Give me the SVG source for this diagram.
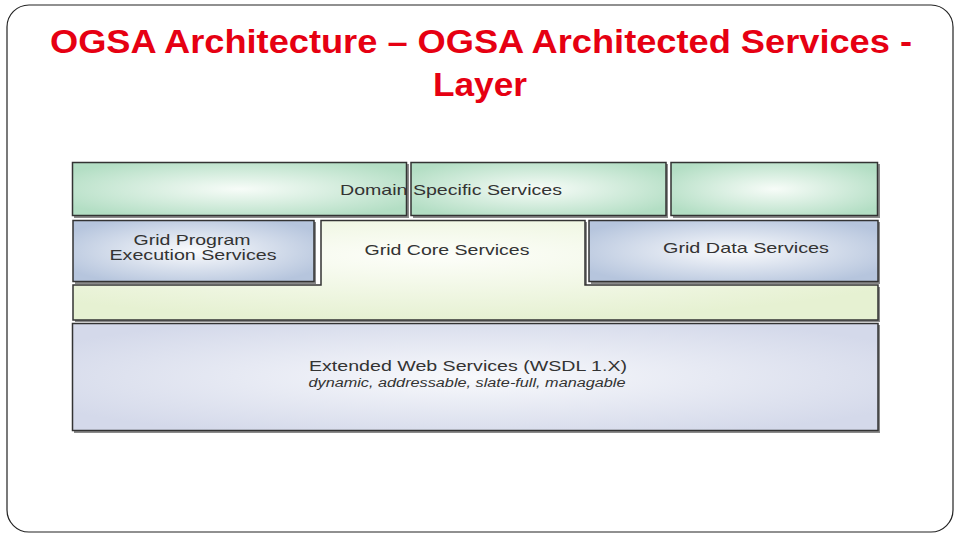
<svg xmlns="http://www.w3.org/2000/svg" width="960" height="540" viewBox="0 0 960 540">
<style>
.title{font-family:"Liberation Sans",Arial,sans-serif;font-weight:bold;font-size:33px;fill:#e60012;text-anchor:middle}
.lbl{font-family:"Liberation Sans",Arial,sans-serif;font-size:14.5px;fill:#333;text-anchor:middle}
.sub{font-family:"Liberation Sans",Arial,sans-serif;font-style:italic;font-size:12px;fill:#333;text-anchor:middle}
.box{stroke:#333;stroke-width:1.5}
.sh{fill:#8a8a8a}
</style>
<defs>
<radialGradient id="gG" cx="0.5" cy="0.5" r="0.6"><stop offset="0" stop-color="#f7fcf8"/><stop offset="1" stop-color="#b3dec4"/></radialGradient>
<radialGradient id="gB" cx="0.5" cy="0.5" r="0.6"><stop offset="0" stop-color="#fafbfd"/><stop offset="1" stop-color="#b6c5dd"/></radialGradient>
<radialGradient id="gY" cx="0.45" cy="0.35" r="0.65"><stop offset="0" stop-color="#fdfefa"/><stop offset="1" stop-color="#e6f1d2"/></radialGradient>
<radialGradient id="gW" cx="0.5" cy="0.5" r="0.6"><stop offset="0" stop-color="#f8f9fc"/><stop offset="1" stop-color="#d4d9ea"/></radialGradient>
</defs>
<rect x="7" y="5" width="946" height="527" rx="22" ry="22" fill="#fff" stroke="#222" stroke-width="1.2"/>
<text class="title" x="481" y="53" textLength="862" lengthAdjust="spacingAndGlyphs">OGSA Architecture – OGSA Architected Services -</text>
<text class="title" x="480" y="96" textLength="94" lengthAdjust="spacingAndGlyphs">Layer</text>

<g id="domain1"><rect class="sh" x="74" y="164" width="335" height="54"/><rect class="box" x="72.5" y="162.5" width="334" height="53" fill="url(#gG)"/></g>
<g id="domain2"><rect class="sh" x="413" y="164" width="255" height="54"/><rect class="box" x="411" y="162.5" width="255" height="53" fill="url(#gG)"/></g>
<g id="domain3"><rect class="sh" x="673" y="164" width="207" height="54"/><rect class="box" x="671" y="162.5" width="206.5" height="53" fill="url(#gG)"/></g>
<text class="lbl" x="451" y="195" textLength="222" lengthAdjust="spacingAndGlyphs">Domain Specific Services</text>

<g id="gridcore">
<path class="sh" d="M323,222 H587 V287 H880 V322 H75 V287 H323 Z"/>
<path class="box" d="M321,220.5 H585 V285 H878 V320 H73 V285 H321 Z" fill="url(#gY)"/>
<text class="lbl" x="447" y="255" textLength="165" lengthAdjust="spacingAndGlyphs">Grid Core Services</text>
</g>

<g id="gridprog">
<rect class="sh" x="75" y="222" width="241" height="62"/>
<rect class="box" x="73" y="220.5" width="241" height="61" fill="url(#gB)"/>
<text class="lbl" x="192" y="245" textLength="117" lengthAdjust="spacingAndGlyphs">Grid Program</text>
<text class="lbl" x="193" y="260" textLength="167" lengthAdjust="spacingAndGlyphs">Execution Services</text>
</g>

<g id="griddata">
<rect class="sh" x="591" y="222" width="289" height="62"/>
<rect class="box" x="589" y="220.5" width="289" height="61" fill="url(#gB)"/>
<text class="lbl" x="746" y="253" textLength="166" lengthAdjust="spacingAndGlyphs">Grid Data Services</text>
</g>

<g id="extended">
<rect class="sh" x="74" y="325" width="806" height="108"/>
<rect class="box" x="72.5" y="323.5" width="805.5" height="107" fill="url(#gW)"/>
<text class="lbl" x="468" y="371" textLength="318" lengthAdjust="spacingAndGlyphs" style="font-size:15.5px">Extended Web Services (WSDL 1.X)</text>
<text class="sub" x="467" y="387" textLength="317" lengthAdjust="spacingAndGlyphs">dynamic, addressable, slate-full, managable</text>
</g>
<g id="connectors"/>
</svg>
